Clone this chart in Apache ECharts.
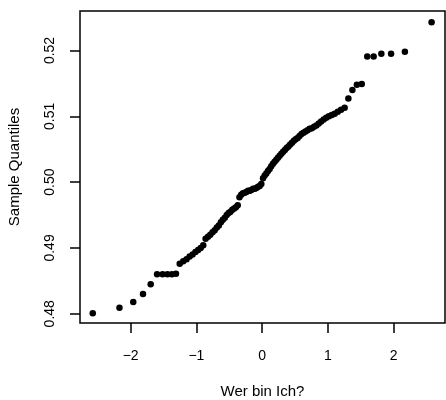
<!DOCTYPE html>
<html>
<head>
<meta charset="utf-8">
<script src="https://cdn.jsdelivr.net/npm/echarts@6/dist/echarts.min.js"></script>
<style>
html,body{margin:0;padding:0;background:#fff;}
#chart{width:446px;height:400px;}
</style>
</head>
<body>
<div id="chart"></div>
<script>
// Theoretical normal quantiles (x) for n = 100
var theoreticalQuantiles = [
-2.576,-2.170,-1.960,-1.812,-1.695,-1.598,-1.514,-1.440,-1.372,-1.311,
-1.254,-1.200,-1.150,-1.103,-1.058,-1.015,-0.974,-0.935,-0.896,-0.860,
-0.824,-0.789,-0.755,-0.722,-0.690,-0.659,-0.628,-0.598,-0.568,-0.539,
-0.510,-0.482,-0.454,-0.426,-0.399,-0.372,-0.345,-0.319,-0.292,-0.266,
-0.240,-0.215,-0.189,-0.164,-0.138,-0.113,-0.088,-0.063,-0.038,-0.013,
0.013,0.038,0.063,0.088,0.113,0.138,0.164,0.189,0.215,0.240,
0.266,0.292,0.319,0.345,0.372,0.399,0.426,0.454,0.482,0.510,
0.539,0.568,0.598,0.628,0.659,0.690,0.722,0.755,0.789,0.824,
0.860,0.896,0.935,0.974,1.015,1.058,1.103,1.150,1.200,1.254,
1.311,1.372,1.440,1.514,1.598,1.695,1.812,1.960,2.170,2.576
];
// Sample quantiles (y)
var sampleQuantiles = [
0.4801,0.4809,0.4818,0.4830,0.4845,0.4860,0.4860,0.4860,0.4860,0.4861,
0.4876,0.4880,0.4883,0.4887,0.4890,0.4894,0.4897,0.4900,0.4904,0.4914,
0.4917,0.4920,0.4924,0.4927,0.4931,0.4934,0.4939,0.4943,0.4946,0.4950,
0.4953,0.4955,0.4958,0.4960,0.4962,0.4965,0.4977,0.4981,0.4983,0.4984,
0.4985,0.4987,0.4987,0.4988,0.4990,0.4990,0.4991,0.4993,0.4994,0.4997,
0.5006,0.5010,0.5013,0.5017,0.5020,0.5024,0.5028,0.5031,0.5034,0.5037,
0.5040,0.5043,0.5046,0.5049,0.5052,0.5054,0.5057,0.5060,0.5063,0.5065,
0.5067,0.5070,0.5073,0.5075,0.5077,0.5079,0.5081,0.5082,0.5084,0.5086,
0.5089,0.5092,0.5095,0.5098,0.5100,0.5102,0.5104,0.5107,0.5110,0.5113,
0.5127,0.5140,0.5148,0.5149,0.5191,0.5191,0.5195,0.5195,0.5198,0.5243
];
var xTicks = [-2, -1, 0, 1, 2];
var xTickLabels = ['\u22122', '\u22121', '0', '1', '2'];
var yTicks = [0.48, 0.49, 0.50, 0.51, 0.52];
var yTickLabels = ['0.48', '0.49', '0.50', '0.51', '0.52'];
var xTitle = 'Wer bin Ich?';
var yTitle = 'Sample Quantiles';

var points = theoreticalQuantiles.map(function (x, i) { return [x, sampleQuantiles[i]]; });

function labelFrom(ticks, labels) {
  return function (v) {
    for (var i = 0; i < ticks.length; i++) {
      if (Math.abs(ticks[i] - v) < 1e-9) return labels[i];
    }
    return '';
  };
}

var font = 'Liberation Sans, Arial, Helvetica, sans-serif';
var chart = echarts.init(document.getElementById('chart'), null, {renderer: 'canvas'});
chart.setOption({
  animation: false,
  backgroundColor: '#fff',
  grid: {
    left: 80, top: 11, width: 365, height: 312,
    containLabel: false, outerBoundsMode: 'none',
    show: true, borderColor: '#000', borderWidth: 1.5, backgroundColor: 'transparent'
  },
  xAxis: {
    type: 'value', min: -2.77, max: 2.78,
    name: xTitle, nameLocation: 'middle', nameGap: 61,
    nameTextStyle: {fontFamily: font, fontSize: 15, color: '#000'},
    axisLine: {show: false, onZero: false},
    splitLine: {show: false},
    axisTick: {show: true, inside: false, length: 10, customValues: xTicks, lineStyle: {color: '#000', width: 1.5}},
    axisLabel: {show: true, customValues: xTicks, margin: 26, fontFamily: font, fontSize: 14, color: '#000',
      formatter: labelFrom(xTicks, xTickLabels)}
  },
  yAxis: {
    type: 'value', min: 0.4786, max: 0.5260,
    name: yTitle, nameLocation: 'middle', nameGap: 58, nameRotate: 90,
    nameTextStyle: {fontFamily: font, fontSize: 15, color: '#000'},
    axisLine: {show: false, onZero: false},
    splitLine: {show: false},
    axisTick: {show: true, inside: false, length: 10, customValues: yTicks, lineStyle: {color: '#000', width: 1.5}},
    axisLabel: {show: true, customValues: yTicks, margin: 30, rotate: 90, fontFamily: font, fontSize: 14, color: '#000',
      verticalAlign: 'middle', align: 'center',
      formatter: labelFrom(yTicks, yTickLabels)}
  },
  series: [{
    type: 'scatter',
    data: points,
    symbol: 'circle',
    symbolSize: 6.5,
    itemStyle: {color: '#000', opacity: 1},
    clip: false
  }]
});
</script>
</body>
</html>
